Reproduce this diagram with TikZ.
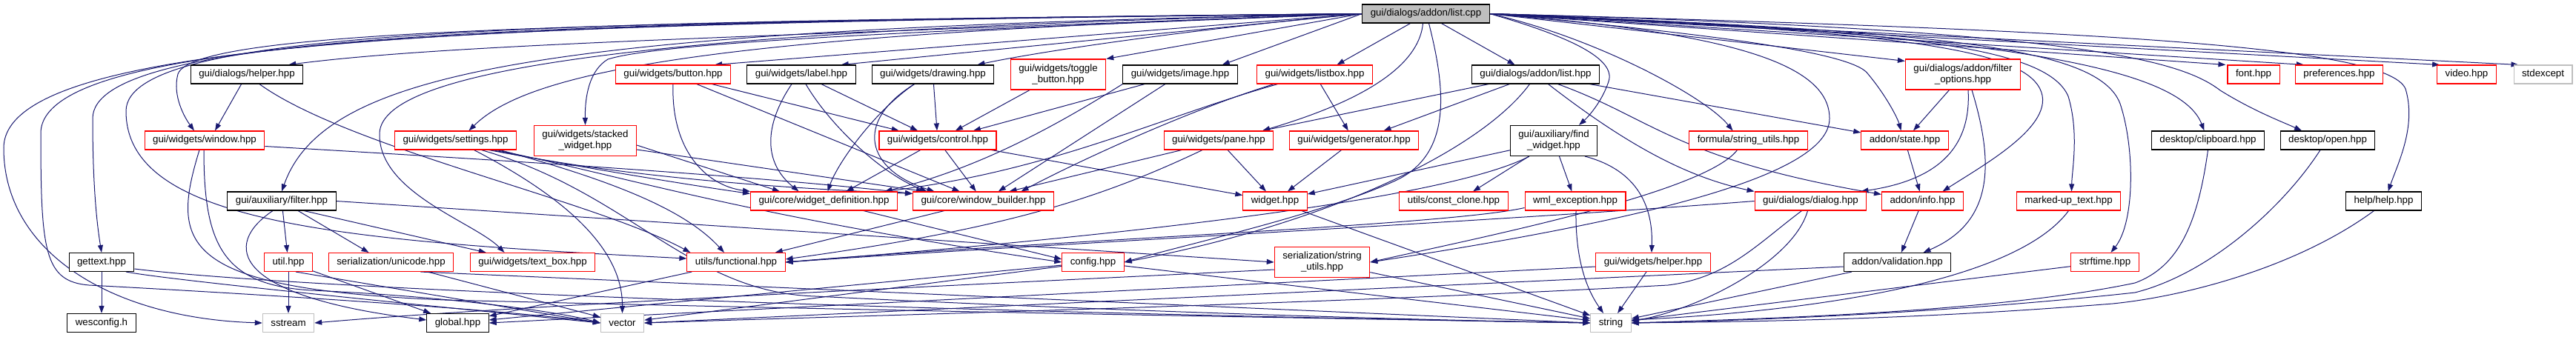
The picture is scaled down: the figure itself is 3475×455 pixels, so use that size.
\documentclass[tikz,border=0pt]{standalone}
\usepackage{fontspec}
\setmainfont{Liberation Sans}
\usepackage{tikz}
\usetikzlibrary{arrows.meta,backgrounds}
\usepackage{xcolor}
\definecolor{depblue}{HTML}{191970}
\definecolor{sysgray}{HTML}{BFBFBF}

\begin{document}
\begin{tikzpicture}[
        x=1pt, y=-1pt,
        hdr/.style={
            draw,
            fill=white,
            line width=1.1pt,
            minimum height=25pt,
            inner xsep=11pt,
            inner ysep=2pt,
            align=center,
            font=\fontsize{13.3}{15}\selectfont
        },
        hdrred/.style={hdr, draw=red},
        hdrblack/.style={hdr, draw=black},
        hdrsys/.style={hdr, draw=sysgray},
        hdrroot/.style={hdr, draw=black, fill=sysgray},
        tall/.style={minimum height=41pt},
        dep/.style={-{Triangle[length=10pt, width=7pt]}, line width=1pt, depblue}
    ]
        \useasboundingbox (0,0) rectangle (3475,455);

        % The file itself
        \node[hdrroot] (root) at (1923.5,18.5) {gui/dialogs/addon/list.cpp};

        % First row of includes
        \node[hdrblack] (dhelper) at (333,100.5) {gui/dialogs/helper.hpp};
        \node[hdrred] (button) at (908,100.5) {gui/widgets/button.hpp};
        \node[hdrblack] (label) at (1081,100.5) {gui/widgets/label.hpp};
        \node[hdrblack] (drawing) at (1258.5,100.5) {gui/widgets/drawing.hpp};
        \node[hdrred, tall] (toggle) at (1427.5,100.5) {gui/widgets/toggle\\\_button.hpp};
        \node[hdrblack] (image) at (1592,100.5) {gui/widgets/image.hpp};
        \node[hdrred] (listbox) at (1773.5,100.5) {gui/widgets/listbox.hpp};
        \node[hdrblack] (listhpp) at (2071.5,100.5) {gui/dialogs/addon/list.hpp};
        \node[hdrred, tall] (filteropt) at (2648,100.5) {gui/dialogs/addon/filter\\\_options.hpp};
        \node[hdrred] (font) at (3040,100.5) {font.hpp};
        \node[hdrred] (prefs) at (3155.5,100.5) {preferences.hpp};
        \node[hdrred] (video) at (3327.5,100.5) {video.hpp};
        \node[hdrsys] (stdexcept) at (3430.5,100.5) {stdexcept};

        % Second row
        \node[hdrred] (window) at (276,189.5) {gui/widgets/window.hpp};
        \node[hdrred] (settings) at (614.5,189.5) {gui/widgets/settings.hpp};
        \node[hdrred, tall] (stacked) at (789.5,190) {gui/widgets/stacked\\\_widget.hpp};
        \node[hdrred] (control) at (1265,189.5) {gui/widgets/control.hpp};
        \node[hdrred] (pane) at (1644,189.5) {gui/widgets/pane.hpp};
        \node[hdrred] (generator) at (1826.5,189.5) {gui/widgets/generator.hpp};
        \node[hdrblack, tall] (find) at (2096,190) {gui/auxiliary/find\\\_widget.hpp};
        \node[hdrred] (fstrutils) at (2358.5,189.5) {formula/string\_utils.hpp};
        \node[hdrred] (state) at (2569.5,189.5) {addon/state.hpp};
        \node[hdrblack] (clipboard) at (2978.5,189.5) {desktop/clipboard.hpp};
        \node[hdrblack] (dopen) at (3140,189.5) {desktop/open.hpp};

        % Third row
        \node[hdrblack] (filter) at (380,271.5) {gui/auxiliary/filter.hpp};
        \node[hdrred] (widgetdef) at (1111.5,271.5) {gui/core/widget\_definition.hpp};
        \node[hdrred] (winbuilder) at (1326.5,271.5) {gui/core/window\_builder.hpp};
        \node[hdrred] (widget) at (1720,271.5) {widget.hpp};
        \node[hdrred] (constclone) at (1961,271.5) {utils/const\_clone.hpp};
        \node[hdrred] (wmlexc) at (2125,271.5) {wml\_exception.hpp};
        \node[hdrred] (dialog) at (2442.5,271.5) {gui/dialogs/dialog.hpp};
        \node[hdrred] (info) at (2593.5,271.5) {addon/info.hpp};
        \node[hdrred] (markedup) at (2790.5,271.5) {marked-up\_text.hpp};
        \node[hdrblack] (help) at (3215.5,271.5) {help/help.hpp};

        % Fourth row
        \node[hdrblack] (gettext) at (137,354) {gettext.hpp};
        \node[hdrred] (util) at (389,354) {util.hpp};
        \node[hdrred] (unicode) at (527.5,354) {serialization/unicode.hpp};
        \node[hdrred] (textbox) at (718.5,354) {gui/widgets/text\_box.hpp};
        \node[hdrred] (functional) at (993,354) {utils/functional.hpp};
        \node[hdrred] (config) at (1474.5,354) {config.hpp};
        \node[hdrred, tall] (sstrutils) at (1783.5,354) {serialization/string\\\_utils.hpp};
        \node[hdrred] (whelper) at (2230,354) {gui/widgets/helper.hpp};
        \node[hdrblack] (validation) at (2559.5,354) {addon/validation.hpp};
        \node[hdrred] (strftime) at (2839.5,354) {strftime.hpp};

        % Bottom row
        \node[hdrblack] (wesconfig) at (137,436) {wesconfig.h};
        \node[hdrsys] (sstream) at (389,436) {sstream};
        \node[hdrblack] (global) at (617.5,436) {global.hpp};
        \node[hdrsys] (vector) at (839.5,436) {vector};
        \node[hdrsys] (string) at (2173,436) {string};

        \begin{scope}[on background layer]
        % root, to the left
        \draw[dep] (root.west) .. controls (600,30) and (5,55) .. (5,200) .. controls (5,340) and (150,430) .. (sstream.west);
        \draw[dep] (root.west) .. controls (650,32) and (55,50) .. (55,180) .. controls (55,340) and (60,380) .. (120,385) .. controls (400,400) and (700,420) .. (vector.west);
        \draw[dep] (root.west) .. controls (700,30) and (125,45) .. (125,160) .. controls (125,260) and (132,310) .. (gettext.north);
        \draw[dep] (root.west) .. controls (750,30) and (170,35) .. (170,150) .. controls (170,300) and (450,325) .. ([yshift=5pt]functional.west);
        \draw[dep] (root.west) .. controls (800,30) and (260,40) .. (240,100) .. controls (232,130) and (250,160) .. ([xshift=-14pt]window.north);
        \draw[dep] (root.west) .. controls (1000,50) and (600,60) .. ([xshift=-20pt]dhelper.north east);
        \draw[dep] (root.west) .. controls (750,40) and (440,90) .. (filter.north);
        \draw[dep] (root.west) .. controls (900,40) and (515,90) .. (512,180) .. controls (510,260) and (640,300) .. ([xshift=-38pt]textbox.north);
        \draw[dep] (root.west) .. controls (1000,46) and (720,90) .. ([xshift=18pt]settings.north);
        \draw[dep] (root.west) .. controls (1300,40) and (900,55) .. (820,80) .. controls (795,95) and (789,130) .. (stacked.north);
        \draw[dep] (root.west) -- ([xshift=-22pt]button.north east);
        \draw[dep] (root.west) -- ([xshift=-20pt]label.north east);
        \draw[dep] (root.west) .. controls (1600,40) and (1400,70) .. ([xshift=-23pt]drawing.north east);
        \draw[dep] (root.west) -- (toggle.north east);
        \draw[dep] (root.west) -- ([xshift=-21pt]image.north east);

        % root, downwards
        \draw[dep] ([xshift=-21pt]root.south) -- ([xshift=30pt]listbox.north);
        \draw[dep] ([xshift=-4pt]root.south) .. controls (1915,80) and (1860,130) .. ([xshift=59pt]pane.north);
        \draw[dep] ([xshift=4pt]root.south) .. controls (1950,120) and (1960,210) .. (1880,245) .. controls (1780,290) and (1600,330) .. (config.east);
        \draw[dep] ([xshift=21pt]root.south) -- ([xshift=-28pt]listhpp.north);

        % root, to the right
        \draw[dep] (root.east) .. controls (2120,50) and (2180,80) .. (2170,110) .. controls (2160,140) and (2140,160) .. ([xshift=34pt]find.north);
        \draw[dep] (root.east) .. controls (2150,50) and (2300,130) .. ([xshift=-21pt]fstrutils.north);
        \draw[dep] (root.east) .. controls (2350,45) and (2468,90) .. (2468,160) .. controls (2468,240) and (2200,300) .. (sstrutils.east);
        \draw[dep] (root.east) -- ([yshift=-3pt]filteropt.north west);
        \draw[dep] (root.east) .. controls (2300,45) and (2500,70) .. (2520,100) .. controls (2545,130) and (2560,160) .. ([xshift=-5pt]state.north);
        \draw[dep] (root.east) .. controls (2500,40) and (2700,60) .. (2745,110) .. controls (2790,160) and (2680,220) .. ([xshift=27pt]info.north);
        \draw[dep] (root.east) .. controls (2550,40) and (2760,60) .. (2790,130) .. controls (2805,180) and (2795,230) .. ([xshift=4pt]markedup.north);
        \draw[dep] (root.east) .. controls (2600,42) and (2830,60) .. (2860,140) .. controls (2880,200) and (2880,300) .. ([xshift=8pt]strftime.north);
        \draw[dep] (root.east) .. controls (2700,45) and (2940,90) .. ([xshift=-5pt]clipboard.north);
        \draw[dep] (root.east) -- ([xshift=-2pt]font.north west);
        \draw[dep] (root.east) -- ([xshift=12pt]prefs.north west);
        \draw[dep] (root.east) .. controls (2800,40) and (2940,80) .. (2995,122) .. controls (3040,150) and (3080,165) .. ([xshift=-35pt]dopen.north);
        \draw[dep] (root.east) .. controls (2800,40) and (3220,60) .. (3245,120) .. controls (3260,170) and (3235,220) .. ([xshift=6pt]help.north);
        \draw[dep] (root.east) -- ([xshift=4pt]video.north west);
        \draw[dep] (root.east) -- ([xshift=7pt]stdexcept.north west);

        % first row
        \draw[dep] (dhelper) -- ([xshift=14pt]window.north);
        \draw[dep] ([xshift=17pt]dhelper.south) .. controls (470,200) and (800,270) .. ([xshift=5pt]functional.north west);
        \draw[dep] (button) -- (control);
        \draw[dep] (button.south) .. controls (905,200) and (950,250) .. (widgetdef.north west);
        \draw[dep] (button) -- (winbuilder);
        \draw[dep] (label) -- (control);
        \draw[dep] ([xshift=-13pt]label.south) .. controls (1030,170) and (1030,220) .. ([xshift=-34pt]widgetdef.north);
        \draw[dep] ([xshift=6pt]label.south) .. controls (1120,170) and (1190,235) .. ([xshift=-76pt]winbuilder.north);
        \draw[dep] (drawing) -- (control);
        \draw[dep] ([xshift=-25pt]drawing.south) .. controls (1180,150) and (1130,220) .. ([xshift=5pt]widgetdef.north);
        \draw[dep] ([xshift=-25pt]drawing.south) .. controls (1150,165) and (1170,230) .. ([xshift=-66pt]winbuilder.north);
        \draw[dep] (toggle) -- (control);
        \draw[dep] (image) -- (control);
        \draw[dep] (image.south west) .. controls (1440,160) and (1330,225) .. ([xshift=82pt]widgetdef.north);
        \draw[dep] (image) -- (winbuilder);
        \draw[dep] (listbox) -- (generator);
        \draw[dep] ([xshift=-50pt]listbox.south) .. controls (1560,160) and (1420,230) .. ([xshift=82pt]widgetdef.north);
        \draw[dep] ([xshift=-55pt]listbox.south) .. controls (1600,150) and (1450,220) .. ([xshift=51pt]winbuilder.north);
        \draw[dep] (listhpp) -- ([xshift=59pt]pane.north);
        \draw[dep] (listhpp) -- ([xshift=40pt]generator.north);
        \draw[dep] ([xshift=-8pt]listhpp.south) .. controls (2000,200) and (1800,300) .. (config.east);
        \draw[dep] ([xshift=17pt]listhpp.south) .. controls (2200,200) and (2280,240) .. (dialog.north west);
        \draw[dep] ([xshift=30pt]listhpp.south) .. controls (2230,160) and (2260,215) .. ([yshift=-4pt]info.north west);
        \draw[dep] (listhpp) -- (state);
        \draw[dep] (filteropt) -- (state);
        \draw[dep] ([xshift=7pt]filteropt.south) .. controls (2660,210) and (2600,245) .. ([xshift=-8pt]dialog.north east);
        \draw[dep] ([xshift=12pt]filteropt.south) .. controls (2690,220) and (2690,300) .. ([xshift=35pt]validation.north);

        % second row
        \draw[dep] ([yshift=-8pt]window.east) .. controls (600,212) and (1000,235) .. ([yshift=-3pt]winbuilder.north west);
        \draw[dep] ([xshift=-7pt]window.south) .. controls (230,330) and (240,390) .. (600,405) .. controls (1200,420) and (1800,430) .. (string.west);
        \draw[dep] ([xshift=-1pt]window.south) .. controls (275,330) and (300,385) .. (420,392) .. controls (600,400) and (750,420) .. (vector.west);
        \draw[dep] ([xshift=45pt]settings.south) .. controls (780,225) and (930,250) .. ([yshift=-3pt]widgetdef.north west);
        \draw[dep] ([xshift=50pt]settings.south) .. controls (800,232) and (1000,252) .. ([yshift=-3pt]winbuilder.north west);
        \draw[dep] ([xshift=55pt]settings.south) .. controls (850,240) and (1000,290) .. (config.west);
        \draw[dep] ([xshift=60pt]settings.south) .. controls (850,250) and (930,290) .. ([xshift=-16pt]functional.north);
        \draw[dep] ([xshift=25pt]settings.south) .. controls (750,260) and (840,330) .. (vector.north);
        \draw[dep] ([xshift=35pt]settings.south) .. controls (850,260) and (930,395) .. (1100,400) .. controls (1500,420) and (1900,432) .. (string.west);
        \draw[dep] ([yshift=-6pt]stacked.east) -- ([xshift=40pt]widgetdef.north west);
        \draw[dep] ([yshift=-12pt]stacked.east) -- ([xshift=15pt]winbuilder.north west);
        \draw[dep] (control) -- (widget);
        \draw[dep] (control) -- ([xshift=30pt]widgetdef.north);
        \draw[dep] (control) -- (winbuilder);
        \draw[dep] (pane) -- (widget);
        \draw[dep] ([xshift=-50pt]pane.south) -- ([xshift=35pt]winbuilder.north);
        \draw[dep] ([xshift=-22pt]pane.south) .. controls (1480,270) and (1350,310) .. ([yshift=4pt]functional.east);
        \draw[dep] (generator) -- (widget);
        \draw[dep] (find) -- (widget);
        \draw[dep] ([xshift=-33pt]find.south) .. controls (1950,270) and (1500,320) .. (functional.east);
        \draw[dep] (find) -- ([xshift=26pt]constclone.north);
        \draw[dep] (find) -- (wmlexc);
        \draw[dep] ([xshift=42pt]find.south) .. controls (2210,230) and (2230,280) .. ([xshift=-2pt]whelper.north);
        \draw[dep] ([xshift=-15pt]fstrutils.south) .. controls (2300,260) and (2000,320) .. (sstrutils.east);
        \draw[dep] (state) -- (info);
        \draw[dep] (clipboard.south) .. controls (2965,300) and (2940,360) .. (2880,382) .. controls (2700,420) and (2400,430) .. (string.east);
        \draw[dep] ([xshift=-10pt]dopen.south) .. controls (3080,280) and (2980,370) .. (2880,395) .. controls (2650,420) and (2400,432) .. (string.east);

        % third row
        \draw[dep] ([xshift=-12pt]filter.south) .. controls (300,330) and (310,400) .. ([yshift=4pt]global.west);
        \draw[dep] (filter) -- (util);
        \draw[dep] (filter) -- ([xshift=-30pt]unicode.north);
        \draw[dep] ([xshift=30pt]filter.south) -- ([xshift=22pt]textbox.north west);
        \draw[dep] (filter.east) -- (sstrutils.west);
        \draw[dep] (widgetdef) -- ([yshift=4pt]config.west);
        \draw[dep] (winbuilder) -- (functional);
        \draw[dep] (widget) -- (string);
        \draw[dep] ([xshift=1pt]wmlexc.south) .. controls (2125,350) and (2140,390) .. ([xshift=-10pt]string.north);
        \draw[dep] ([yshift=-9pt]wmlexc.west) .. controls (1950,305) and (1400,325) .. (functional.east);
        \draw[dep] ([xshift=-4pt]dialog.south) .. controls (2420,350) and (2300,415) .. ([yshift=2pt]string.east);
        \draw[dep] ([xshift=-12pt]dialog.south) .. controls (2370,330) and (2330,375) .. (2250,385) .. controls (1800,410) and (1200,425) .. (vector.east);
        \draw[dep] (dialog.west) .. controls (2000,300) and (1400,330) .. (functional.east);
        \draw[dep] (info) -- (validation);
        \draw[dep] (markedup.south) .. controls (2720,380) and (2450,420) .. ([yshift=4pt]string.east);
        \draw[dep] ([xshift=-13pt]help.south) .. controls (3100,360) and (2950,400) .. (2850,410) .. controls (2600,430) and (2400,434) .. (string.east);

        % fourth row
        \draw[dep] (gettext) -- (wesconfig);
        \draw[dep] ([yshift=-9pt]gettext.east) .. controls (400,390) and (1200,420) .. (string.west);
        \draw[dep] ([xshift=33pt]gettext.south) .. controls (230,378) and (500,405) .. (vector.west);
        \draw[dep] (util) -- (sstream);
        \draw[dep] (util) -- (global);
        \draw[dep] ([xshift=10pt]util.south) -- (vector.west);
        \draw[dep] (unicode) -- (vector);
        \draw[dep] ([xshift=40pt]unicode.south) -- (string.west);
        \draw[dep] (functional) -- (global);
        \draw[dep] (config) -- (global);
        \draw[dep] (config) -- (vector);
        \draw[dep] (config) -- (string);
        \draw[dep] (sstrutils) -- (string);
        \draw[dep] ([yshift=-10pt]sstrutils.west) .. controls (1300,385) and (700,412) .. (sstream.east);
        \draw[dep] (whelper) -- (string);
        \draw[dep] ([yshift=-6pt]whelper.west) -- (global.east);
        \draw[dep] (validation) -- (string);
        \draw[dep] ([yshift=-6pt]validation.west) -- (vector.east);
        \draw[dep] (strftime) -- (string);
        \end{scope}
    \end{tikzpicture}
\end{document}
